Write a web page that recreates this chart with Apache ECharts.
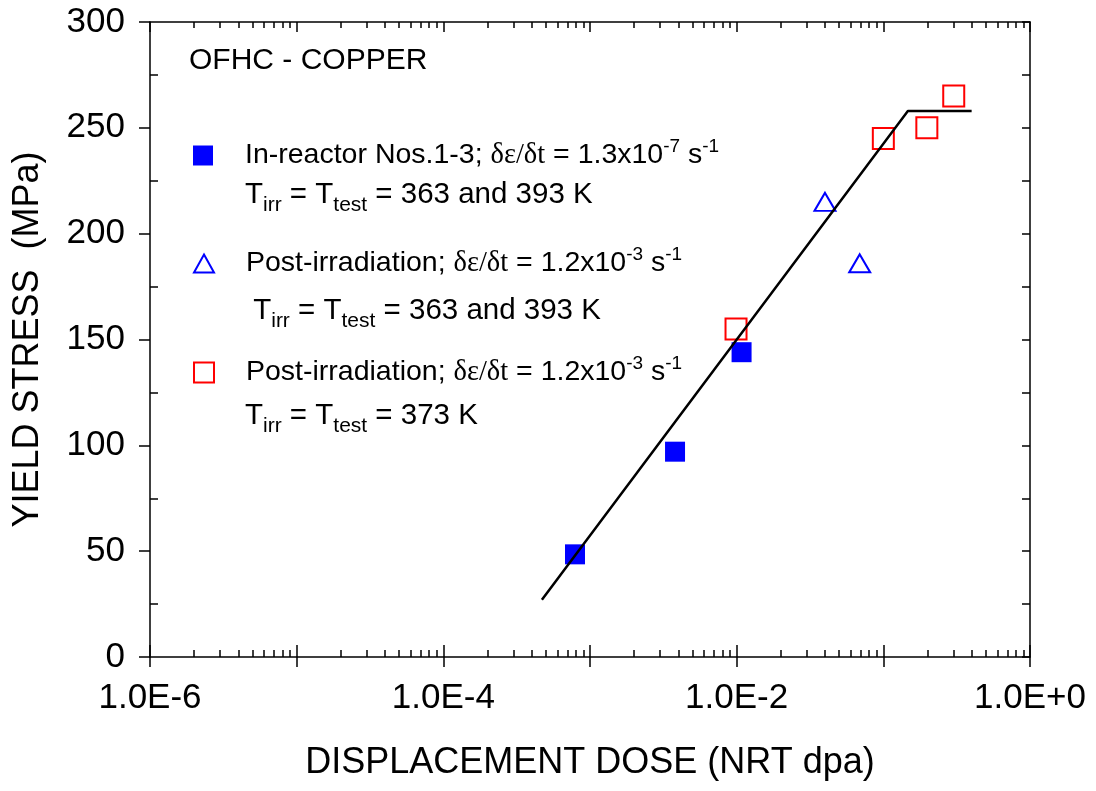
<!DOCTYPE html>
<html>
<head>
<meta charset="UTF-8">
<title>OFHC copper yield stress vs displacement dose</title>
<script src="https://cdn.jsdelivr.net/npm/echarts@6/dist/echarts.min.js"></script>
<style>
  body { margin: 0; background: #fff; }
  #chart { width: 1096px; height: 791px; }
</style>
</head>
<body>
<div id="chart"></div>
<script>
  // dose (NRT dpa) and yield stress (MPa)
  const inReactorDose = [7.9e-4, 3.8e-3, 1.08e-2];
  const inReactorStress = [48.5, 97, 144];
  const postIrrADose = [0.040, 0.069];
  const postIrrAStress = [215, 186];
  const postIrrBDose = [0.0099, 0.100, 0.198, 0.302];
  const postIrrBStress = [155, 245, 250, 265];
  const fitDose = [4.7e-4, 0.147, 0.40];
  const fitStress = [27, 258, 258];

  // axis ticks
  const decades = [1e-6, 1e-5, 1e-4, 1e-3, 1e-2, 1e-1, 1];
  const minorSteps = [2, 3, 4, 5, 6, 7, 8, 9];
  const xLabelValues = [1e-6, 1e-4, 1e-2, 1];
  const xLabelTexts = ['1.0E-6', '1.0E-4', '1.0E-2', '1.0E+0'];
  const yMinorTicks = [25, 75, 125, 175, 225, 275];

  const minorDose = [];
  decades.slice(0, -1).forEach(d => minorSteps.forEach(k => minorDose.push(+(d * k).toPrecision(3))));
  const pairs = (xs, ys) => xs.map((x, i) => [x, ys[i]]);

  const rich = {
    a: { fontSize: 28.5, fontFamily: 'Liberation Sans', color: '#000' },
    b: { fontSize: 29.5, fontFamily: 'Liberation Sans', color: '#000' },
    g: { fontSize: 28.5, fontFamily: 'Liberation Serif', color: '#000' },
    sup: { fontSize: 19, fontFamily: 'Liberation Sans', color: '#000', padding: [0, 0, 18, 0] },
    sub: { fontSize: 21, fontFamily: 'Liberation Sans', color: '#000', padding: [20, 0, 0, 0] },
    gap: { width: 27 }
  };
  const legendText = {
    inReactor: '{gap| }{a|In-reactor Nos.1-3; }{g|δε/δt}{a| = 1.3x10}{sup|-7}{a| s}{sup|-1}',
    postA: '{gap| }{a|Post-irradiation; }{g|δε/δt}{a| = 1.2x10}{sup|-3}{a| s}{sup|-1}',
    postB: '{gap| }{a|Post-irradiation; }{g|δε/δt}{a| = 1.2x10}{sup|-3}{a| s}{sup|-1}'
  };
  const tempLines = [
    { y: 195, text: '{b|T}{sub|irr}{b| = T}{sub|test}{b| = 363 and 393 K}' },
    { y: 311, text: '{b| T}{sub|irr}{b| = T}{sub|test}{b| = 363 and 393 K}' },
    { y: 416, text: '{b|T}{sub|irr}{b| = T}{sub|test}{b| = 373 K}' }
  ];

  const blue = '#0000ff', red = '#ff0000';
  const legendBase = {
    left: 193, padding: 0, itemWidth: 20, itemHeight: 20, selectedMode: false,
    textStyle: { rich: rich, fontSize: 28 },
    formatter: name => legendText[name]
  };

  const logAxis = extra => Object.assign({
    type: 'log', logBase: 10, min: 1e-6, max: 1, gridIndex: 0,
    axisLine: { show: false }, axisLabel: { show: false },
    splitLine: { show: false }, minorTick: { show: false }
  }, extra);
  const valAxis = extra => Object.assign({
    type: 'value', min: 0, max: 300, interval: 25, gridIndex: 0,
    axisLine: { show: false }, axisLabel: { show: false }, splitLine: { show: false }
  }, extra);
  const black = { color: '#000', width: 1.5 };

  const chart = echarts.init(document.getElementById('chart'));
  chart.setOption({
    animation: false,
    backgroundColor: '#fff',
    textStyle: { fontFamily: 'Liberation Sans', color: '#000' },
    grid: { left: 150, right: 66, top: 22, bottom: 134 },
    xAxis: [
      logAxis({
        position: 'bottom',
        axisLine: { show: true, lineStyle: black },
        axisTick: { customValues: decades, length: 10, inside: false, lineStyle: black },
        axisLabel: {
          show: true, customValues: xLabelValues, fontSize: 35, color: '#000', margin: 24,
          formatter: v => xLabelTexts[xLabelValues.findIndex(t => Math.abs(Math.log10(t) - Math.log10(v)) < 1e-6)]
        },
        name: 'DISPLACEMENT DOSE (NRT dpa)', nameLocation: 'middle', nameGap: 88,
        nameTextStyle: { fontSize: 36, color: '#000' }
      }),
      logAxis({ position: 'bottom', axisTick: { customValues: decades, length: 12, inside: true, lineStyle: black } }),
      logAxis({ position: 'bottom', axisTick: { customValues: minorDose, length: 7, inside: true, lineStyle: black } }),
      logAxis({ position: 'top', axisLine: { show: true, lineStyle: black },
        axisTick: { customValues: decades, length: 10, inside: true, lineStyle: black } }),
      logAxis({ position: 'top', axisTick: { customValues: minorDose, length: 6, inside: true, lineStyle: black } })
    ],
    yAxis: [
      valAxis({
        position: 'left', interval: 50,
        axisLine: { show: true, lineStyle: black },
        axisTick: { length: 11, inside: false, lineStyle: black },
        axisLabel: { show: true, fontSize: 35, color: '#000', margin: 25 },
        name: 'YIELD STRESS  (MPa)', nameLocation: 'middle', nameGap: 104,
        nameTextStyle: { fontSize: 36, color: '#000' }
      }),
      valAxis({ position: 'left', axisTick: { customValues: yMinorTicks, length: 8, inside: true, lineStyle: black } }),
      valAxis({ position: 'right', axisLine: { show: true, lineStyle: black },
        axisTick: { length: 8, inside: true, lineStyle: black } })
    ],
    legend: [
      Object.assign({}, legendBase, { top: 137, data: [{ name: 'inReactor', icon: 'rect', itemStyle: { color: blue, borderWidth: 0 } }] }),
      Object.assign({}, legendBase, { top: 245, itemHeight: 18,
        data: [{ name: 'postA', icon: 'triangle', itemStyle: { color: 'rgba(0,0,0,0)', borderColor: blue, borderWidth: 2 } }] }),
      Object.assign({}, legendBase, { top: 354,
        data: [{ name: 'postB', icon: 'rect', itemStyle: { color: 'rgba(0,0,0,0)', borderColor: red, borderWidth: 2 } }] })
    ],
    graphic: [
      { type: 'text', x: 189, y: 61, style: { text: 'OFHC - COPPER', font: '30px "Liberation Sans"', fill: '#000', verticalAlign: 'middle' } }
    ].concat(tempLines.map(t => ({
      type: 'text', x: 245, y: t.y,
      style: { text: t.text, rich: rich, fill: '#000', verticalAlign: 'middle' }
    }))),
    series: [
      {
        name: 'inReactor', type: 'scatter', symbol: 'rect', symbolSize: 20,
        itemStyle: { color: blue, opacity: 1 }, data: pairs(inReactorDose, inReactorStress)
      },
      {
        name: 'postA', type: 'scatter', symbol: 'triangle', symbolSize: [21, 18],
        itemStyle: { color: 'rgba(0,0,0,0)', borderColor: blue, borderWidth: 2, opacity: 1 },
        data: pairs(postIrrADose, postIrrAStress)
      },
      {
        name: 'postB', type: 'scatter', symbol: 'rect', symbolSize: 21,
        itemStyle: { color: 'rgba(0,0,0,0)', borderColor: red, borderWidth: 2, opacity: 1 },
        data: pairs(postIrrBDose, postIrrBStress)
      },
      {
        name: 'fit', type: 'line', showSymbol: false, symbol: 'none',
        lineStyle: { color: '#000', width: 2.5 }, data: pairs(fitDose, fitStress)
      }
    ]
  });
</script>
</body>
</html>
